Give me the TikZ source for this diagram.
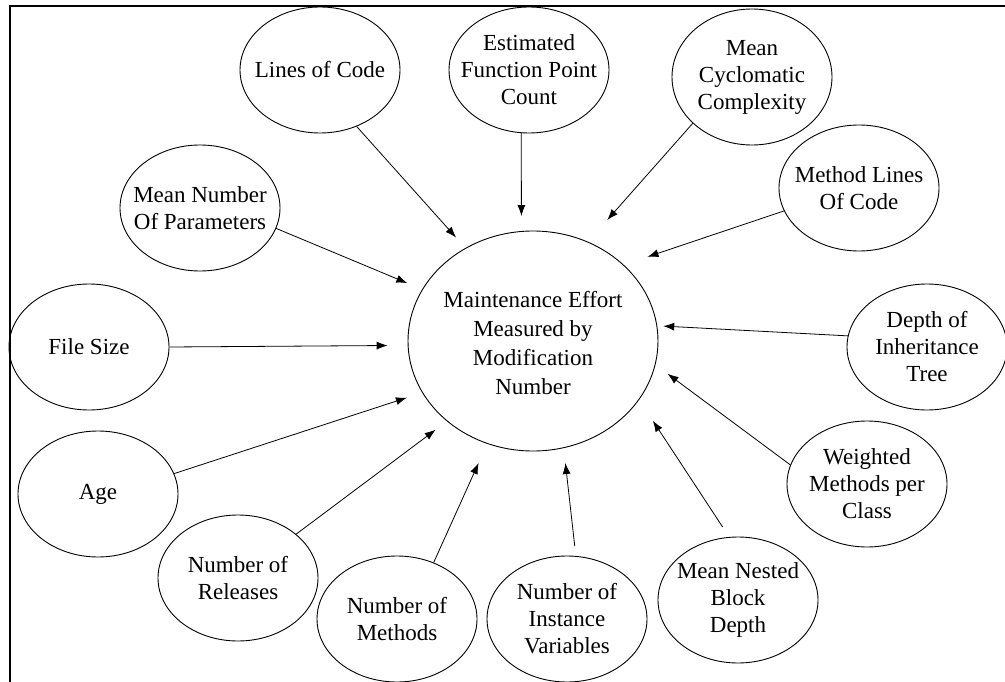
\documentclass[tikz,border=0pt]{standalone}
\usepackage{fontspec}
\setmainfont{Liberation Serif}
\usetikzlibrary{shapes.geometric,arrows.meta}
\tikzset{
  txt/.style={align=center, inner sep=0pt, font=\fontsize{23}{27}\selectfont},
  factor/.style={ellipse, draw, line width=0.9pt, minimum width=160pt, minimum height=126pt,
    inner sep=0pt, label={[txt]center:#1}},
  hubnode/.style={ellipse, draw, line width=0.9pt, minimum width=250pt, minimum height=220pt,
    inner sep=0pt, label={[txt, font=\fontsize{23}{29}\selectfont, yshift=-2pt]center:#1}},
  link/.style={-{Latex[length=11pt,width=8pt]}, line width=0.8pt},
  frame/.style={line width=2pt}
}
\begin{document}
\begin{tikzpicture}[x=1pt,y=-1pt]
\useasboundingbox (0,0) rectangle (1005,682);
\draw[frame] (9.5,682) -- (9.5,6) -- (1005,6);

\node[hubnode={Maintenance Effort\\Measured by\\Modification\\Number}] (ctr) at (533,341) {};

\node[factor={Lines of Code}] (loc) at (320,70) {};
\node[factor={Estimated\\Function Point\\Count}] (efp) at (529,70) {};
\node[factor={Mean\\Cyclomatic\\Complexity}, minimum height=136pt] (mcc) at (752,77) {};
\node[factor={Method Lines\\Of Code}] (mlc) at (859,188) {};
\node[factor={Mean Number\\Of Parameters}] (mnp) at (200,208) {};
\node[factor={File Size}] (fsz) at (89,347) {};
\node[factor={Age}] (age) at (98,494) {};
\node[factor={Number of\\Releases}] (rel) at (238,578) {};
\node[factor={Number of\\Methods}] (nom) at (397,619) {};
\node[factor={Number of\\Instance\\Variables}] (niv) at (567,619) {};
\node[factor={Mean Nested\\Block\\Depth}] (mnb) at (738,600) {};
\node[factor={Weighted\\Methods per\\Class}] (wmc) at (867,484) {};
\node[factor={Depth of\\Inheritance\\Tree}] (dit) at (927,347) {};

\draw[link, shorten >=14pt] (loc.-57) -- (ctr.126);
\draw[link, shorten >=15pt] (efp.-97) -- (ctr.96);
\draw[link, shorten >=29pt] (mcc.218) -- (ctr.61);
\draw[link, shorten >=25pt] (mlc.197) -- (ctr.40);
\draw[link, shorten >=16pt] (mnp.-15) -- (ctr.155);
\draw[link, shorten >=20pt] (fsz.0) -- (ctr.182);
\draw[link, shorten >=16pt] (age.15) -- (ctr.205);
\draw[link, shorten >=14pt] (rel.37) -- (ctr.223);
\draw[link, shorten >=21pt] (nom.57) -- (ctr.246);
\draw[link, shorten >=15pt, shorten <=10pt] (niv.82) -- (ctr.286);
\draw[link, shorten >=25pt, shorten <=12pt] (mnb.98) -- (ctr.-29);
\draw[link, shorten >=15pt] (wmc.166) -- (ctr.-11);
\draw[link, shorten >=6pt] (dit.172) -- (ctr.7);
\end{tikzpicture}
\end{document}
